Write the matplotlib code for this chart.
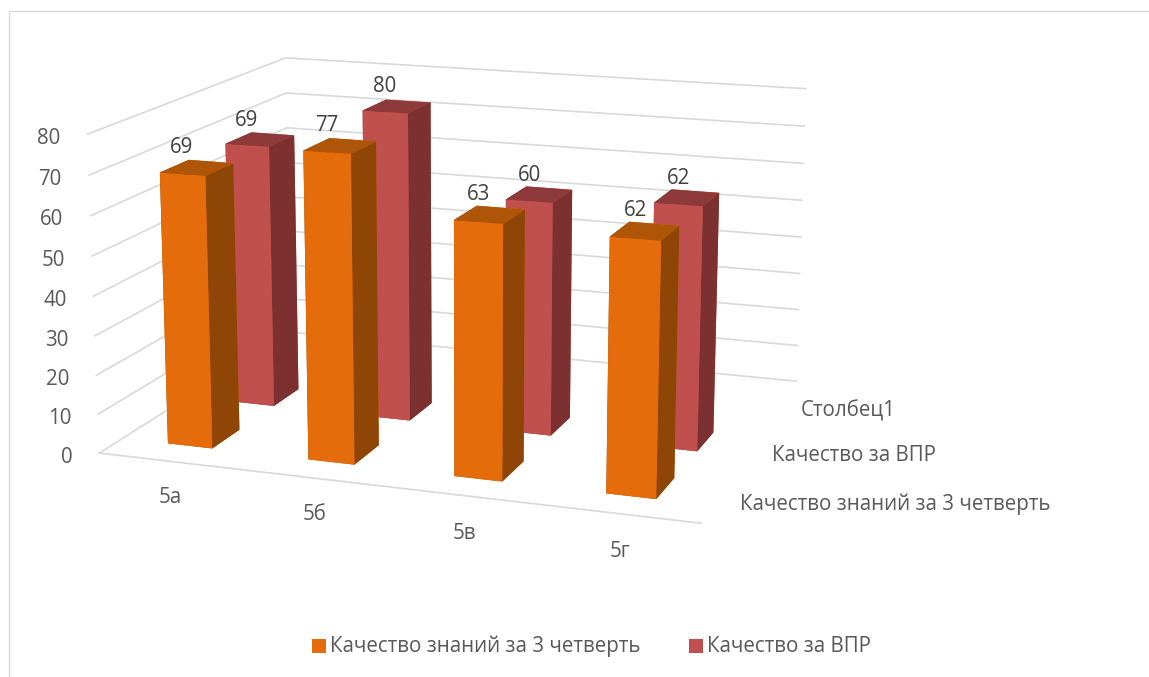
import matplotlib
matplotlib.use("Agg")
import matplotlib.pyplot as plt
from matplotlib.patches import Rectangle

plt.rcParams['font.family'] = ['Open Sans', 'DejaVu Sans']

classes = ["5а", "5б", "5в", "5г"]
series = ["Качество знаний за 3 четверть", "Качество за ВПР", "Столбец1"]
quality_q3 = [69, 77, 63, 62]
quality_vpr = [69, 80, 60, 62]
z_ticks = [0, 10, 20, 30, 40, 50, 60, 70, 80]

orange = ["#AE5507", "#AE5507", "#E46C0A", "#E46C0A", "#8F4505", "#8F4505"]
red = ["#8F3A3A", "#8F3A3A", "#C0504D", "#C0504D", "#7C3030", "#7C3030"]

fig = plt.figure(figsize=(11.49, 6.77), dpi=100)
ax = fig.add_axes([-0.099, 0.094, 1, 1], projection='3d', computed_zorder=True)
ax.set_proj_type('persp', focal_length=0.7)
ax.view_init(elev=14, azim=-70.5)
ax.set_box_aspect((3.72, 2.9, 1.96), zoom=1.176)
ax.set_xlim(0, len(classes))
ax.set_ylim(0, len(series))
ax.set_zlim(0, 80)
ax.set_xticks([])
ax.set_yticks([])
ax.set_zticks([])
ax.set_axis_off()

# gridlines on the two walls
for z in z_ticks:
    ax.plot([0, 0, 3.91], [0, 3, 3], [z, z, z], color="#D9D9D9", lw=1.2, clip_on=False)
    ax.text(-0.14, -0.1, z - 0.6, str(z), ha='right', va='center', fontsize=14.8, color="#595959")
ax.plot([0, 4.02], [0, 0], [0, 0], color="#D9D9D9", lw=1.2, clip_on=False)

w = 0.32
d = 0.41
x0 = 0.33
y_q3 = 0.32
y_vpr = 1.28
for i in range(len(classes)):
    x = x0 + i
    ax.bar3d(x, y_vpr, 0, w, d, quality_vpr[i], color=red, shade=False)
    ax.bar3d(x, y_q3, 0, w, d, quality_q3[i], color=orange, shade=False)
    ax.text(x + w / 2, y_q3, quality_q3[i] + 6.5, str(quality_q3[i]), ha='center', va='center', fontsize=14.8, color="#404040")
    ax.text(x + w / 2, y_vpr, quality_vpr[i] + 6.5, str(quality_vpr[i]), ha='center', va='center', fontsize=14.8, color="#404040")
    ax.text(0.82 + 0.96 * i, -0.61, 0, classes[i], ha='center', va='center', fontsize=14.8, color="#595959")

label_x = [4.19, 4.16, 4.13]
for j, name in enumerate(series):
    ax.text(label_x[j], 0.255 + 0.957 * j, 2, name, ha='left', va='center', fontsize=14.8, color="#595959")

# chart frame
fig.add_artist(Rectangle((9 / 1149, -0.01), 1.0, 1 - 11 / 677 + 0.01, transform=fig.transFigure,
                         fill=False, ec="#D9D9D9", lw=1))

# legend
fig.patches.append(Rectangle((312 / 1149, 1 - 653 / 677), 14 / 1149, 14 / 677, transform=fig.transFigure, fc="#E46C0A", ec="none"))
fig.patches.append(Rectangle((689 / 1149, 1 - 653 / 677), 14 / 1149, 14 / 677, transform=fig.transFigure, fc="#C0504D", ec="none"))
fig.text(330 / 1149, 1 - 646 / 677, series[0], ha='left', va='center', fontsize=14.8, color="#595959")
fig.text(707 / 1149, 1 - 646 / 677, series[1], ha='left', va='center', fontsize=14.8, color="#595959")

fig.savefig("out.png", dpi=100)
